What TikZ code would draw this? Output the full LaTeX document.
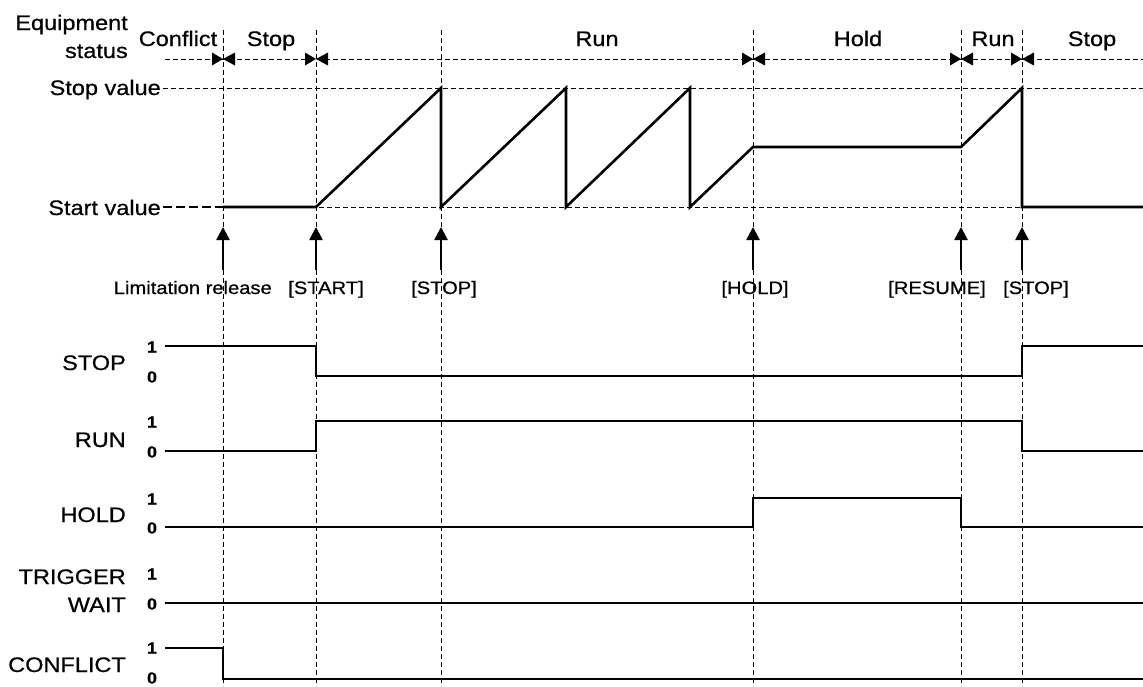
\documentclass[tikz,border=0pt]{standalone}
\usepackage{fontspec}
\setmainfont{Liberation Sans}[FakeStretch=1.12, FakeBold=0.6]
\usetikzlibrary{arrows.meta}

\tikzset{
  guide/.style={dashed, dash pattern=on 5pt off 3pt, line width=0.7pt},
  wave/.style={line width=2.6pt, line join=miter},
  lbl/.style={font=\fontsize{21}{24}\selectfont, inner sep=0pt},
  evt/.style={font=\fontsize{18}{20}\selectfont, inner sep=0pt},
  lvl/.style={font=\bfseries\fontsize{16}{18}\selectfont, inner sep=0pt},
  trig/.style={line width=2.6pt, -{Triangle[length=13pt,width=13pt]}}
}

\begin{document}
\begin{tikzpicture}[x=1pt, y=-1pt]
  \useasboundingbox (0,0) rectangle (1143,686);

  % Event instants
  \foreach \name/\x in {lim/223, start/316, stopa/441, hold/753, resume/961, stopb/1022} {
    \coordinate (\name-top) at (\x,30);
    \coordinate (\name-bot) at (\x,686);
    \coordinate (\name-lo) at (\x,270);
    \coordinate (\name-hi) at (\x,227);
  }

  % Guide lines
  \foreach \name in {lim, start, stopa, hold, resume, stopb}
    \draw[guide] (\name-top) -- (\name-bot);
  \draw[guide] (165,59) -- (1143,59);
  \draw[guide] (163,88) -- (1143,88);
  \draw[guide] (223,207) -- (1143,207);
  \draw[line width=2.4pt, dashed, dash pattern=on 9pt off 4pt] (163,207) -- (223,207);

  % Status boundaries
  \foreach \x in {223,316,753,961,1022} {
    \fill (\x,59) -- ++(-11,-6.5) -- ++(0,13) -- cycle;
    \fill (\x,59) -- ++(12,-6.5) -- ++(0,13) -- cycle;
  }

  % Status labels
  \node[lbl, anchor=base east] (equip) at (128,30) {Equipment};
  \node[lbl, anchor=base east] (status) at (128,58) {status};
  \node[lbl, anchor=base] (stconflict) at (178,46) {Conflict};
  \node[lbl, anchor=base] (ststop) at (271,46) {Stop};
  \node[lbl, anchor=base] (strun) at (597,46) {Run};
  \node[lbl, anchor=base] (sthold) at (858,46) {Hold};
  \node[lbl, anchor=base] (strunb) at (993,46) {Run};
  \node[lbl, anchor=base] (ststopb) at (1092,46) {Stop};

  \node[lbl, anchor=base east] (stopval) at (161,95) {Stop value};
  \node[lbl, anchor=base east] (startval) at (161,215) {Start value};

  % Value curve
  \draw[wave] (223,207) -- (316,207) -- (441,88) -- (441,207) -- (566,88) -- (566,207)
    -- (690,88) -- (690,207) -- (753,147) -- (961,147) -- (1022,88) -- (1022,207) -- (1143,207);

  % Commands
  \foreach \name in {lim, start, stopa, hold, resume, stopb}
    \draw[trig] (\name-lo) -- (\name-hi);
  \node[evt, anchor=base east] (evlim) at (272,294) {Limitation release};
  \node[evt, anchor=base] (evstart) at (326,294) {[START]};
  \node[evt, anchor=base] (evstop) at (444,294) {[STOP]};
  \node[evt, anchor=base] (evhold) at (755,294) {[HOLD]};
  \node[evt, anchor=base] (evresume) at (937,294) {[RESUME]};
  \node[evt, anchor=base] (evstopb) at (1036,294) {[STOP]};

  % Signal names
  \node[lbl, anchor=base east] (sgstop) at (126,370) {STOP};
  \node[lbl, anchor=base east] (sgrun) at (126,447) {RUN};
  \node[lbl, anchor=base east] (sghold) at (126,522) {HOLD};
  \node[lbl, anchor=base east] (sgtrig) at (126,584) {TRIGGER};
  \node[lbl, anchor=base east] (sgwait) at (126,612) {WAIT};
  \node[lbl, anchor=base east] (sgconf) at (126,672) {CONFLICT};

  % Levels
  \foreach \sig/\one/\zero in {stop/347/377, run/422/452, hold/499/528, trig/574/604, conf/648/678} {
    \node[lvl] (\sig-one) at (152,\one) {1};
    \node[lvl] (\sig-zero) at (152,\zero) {0};
  }

  % Signals
  \draw[wave] (165,346) -- (316,346) -- (316,376) -- (1022,376) -- (1022,346) -- (1143,346);
  \draw[wave] (165,451) -- (316,451) -- (316,421) -- (1022,421) -- (1022,451) -- (1143,451);
  \draw[wave] (165,527) -- (753,527) -- (753,498) -- (961,498) -- (961,527) -- (1143,527);
  \draw[wave] (165,603) -- (1143,603);
  \draw[wave] (165,648) -- (223,648) -- (223,679) -- (1143,679);
\end{tikzpicture}
\end{document}
